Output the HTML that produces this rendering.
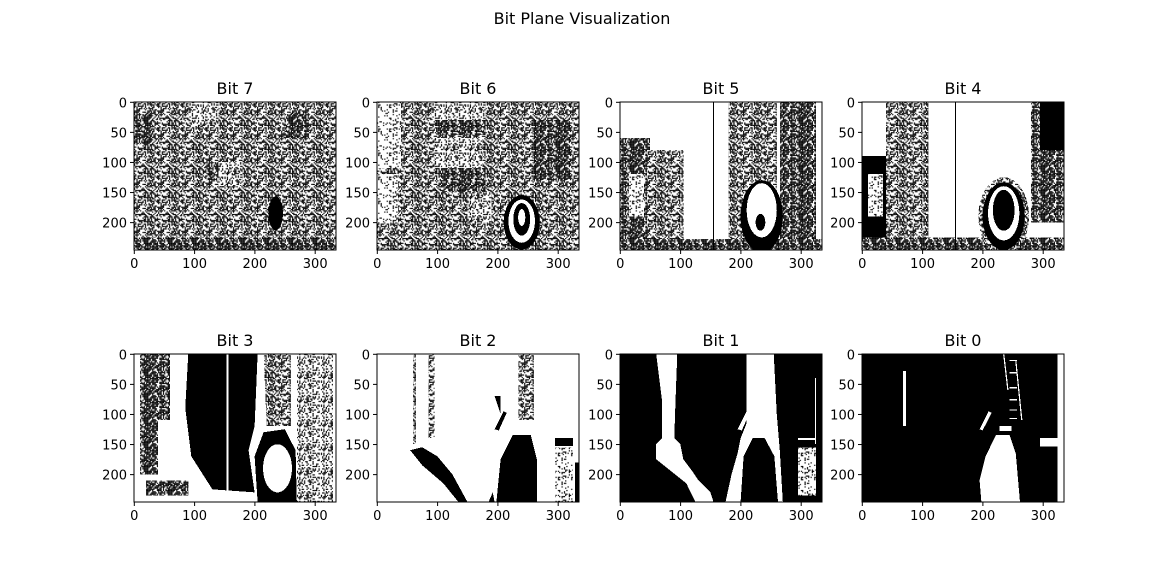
<!DOCTYPE html>
<html><head><meta charset="utf-8"><style>
html,body{margin:0;padding:0;background:#fff;}
svg{display:block;font-family:"DejaVu Sans","Liberation Sans",sans-serif;}
</style></head><body>
<svg id="fig" width="1149" height="564" viewBox="0 0 1149 564" xmlns="http://www.w3.org/2000/svg">
<defs id="defs"></defs>
<text x="582" y="24" font-size="16" text-anchor="middle" fill="#000">Bit Plane Visualization</text>
<g id="panels"></g>
</svg>
<script>
// Panel layout data
const panelTitles = ["Bit 7","Bit 6","Bit 5","Bit 4","Bit 3","Bit 2","Bit 1","Bit 0"];
const xTicks = [0,100,200,300];
const yTicks = [0,50,100,150,200];
const imgW = 335, imgH = 246;

const NS = "http://www.w3.org/2000/svg";
const defs = document.getElementById('defs');
const panelsG = document.getElementById('panels');

// noise texture patterns (visual texture, not data)
let seed = 12345;
function rnd(){ seed = (seed*1103515245+12345) & 0x7fffffff; return seed/0x7fffffff; }
function makePattern(id, density, cell){
  const p = document.createElementNS(NS,'pattern');
  p.setAttribute('id', id);
  p.setAttribute('patternUnits','userSpaceOnUse');
  p.setAttribute('width', 40); p.setAttribute('height', 40);
  let s = '<rect width="40" height="40" fill="#fff"/>';
  for(let y=0;y<40;y+=cell) for(let x=0;x<40;x+=cell){
    if(rnd()<density) s += `<rect x="${x}" y="${y}" width="${cell}" height="${cell}" fill="#000"/>`;
  }
  p.innerHTML = s;
  defs.appendChild(p);
}
makePattern('n50',0.5,2);
makePattern('n35',0.33,2);
makePattern('n70',0.72,2);
makePattern('n20',0.15,2);

// panel contents (image approximations in image coords)
const contents = [
// Bit 7
`<rect width="335" height="246" fill="url(#n50)"/>
<rect x="90" y="0" width="50" height="40" fill="url(#n35)"/>
<rect x="140" y="100" width="40" height="40" fill="url(#n35)"/>
<rect x="0" y="20" width="30" height="50" fill="url(#n70)"/>
<rect x="250" y="20" width="40" height="40" fill="url(#n70)"/>
<rect x="120" y="100" width="20" height="30" fill="url(#n70)"/>
<ellipse cx="235" cy="185" rx="12" ry="28" fill="#000"/>
<rect x="0" y="225" width="335" height="21" fill="url(#n70)"/>`,
// Bit 6
`<rect width="335" height="246" fill="url(#n50)"/>
<rect x="0" y="0" width="40" height="110" fill="url(#n20)"/>
<rect x="0" y="120" width="35" height="80" fill="url(#n20)"/>
<rect x="90" y="0" width="90" height="30" fill="url(#n35)"/>
<rect x="100" y="30" width="80" height="25" fill="url(#n70)"/>
<rect x="95" y="60" width="80" height="50" fill="url(#n35)"/>
<rect x="110" y="110" width="70" height="40" fill="url(#n70)"/>
<rect x="150" y="150" width="40" height="50" fill="url(#n35)"/>
<rect x="260" y="30" width="60" height="100" fill="url(#n70)"/>
<ellipse cx="240" cy="200" rx="30" ry="45" fill="#000"/>
<ellipse cx="240" cy="198" rx="22" ry="36" fill="#fff"/>
<ellipse cx="240" cy="195" rx="14" ry="27" fill="#000"/>
<ellipse cx="240" cy="192" rx="6" ry="14" fill="#fff"/>`,
// Bit 5
`<rect width="335" height="246" fill="#fff"/>
<rect x="0" y="60" width="50" height="186" fill="url(#n70)"/>
<rect x="15" y="120" width="25" height="70" fill="url(#n20)"/>
<rect x="45" y="80" width="60" height="166" fill="url(#n50)"/>
<rect x="180" y="0" width="80" height="246" fill="url(#n50)"/>
<rect x="265" y="0" width="60" height="246" fill="url(#n70)"/>
<rect x="0" y="228" width="335" height="18" fill="url(#n70)"/>
<ellipse cx="235" cy="190" rx="35" ry="60" fill="#000"/>
<ellipse cx="235" cy="180" rx="25" ry="45" fill="#fff"/>
<ellipse cx="233" cy="200" rx="8" ry="14" fill="#000"/>
<line x1="155" y1="0" x2="155" y2="246" stroke="#000" stroke-width="2"/>`,
// Bit 4
`<rect width="335" height="246" fill="#fff"/>
<rect x="0" y="90" width="55" height="156" fill="#000"/>
<rect x="10" y="120" width="25" height="70" fill="url(#n20)"/>
<rect x="40" y="0" width="70" height="246" fill="url(#n50)"/>
<rect x="280" y="0" width="55" height="200" fill="url(#n70)"/>
<rect x="295" y="0" width="40" height="80" fill="#000"/>
<rect x="0" y="225" width="335" height="21" fill="url(#n70)"/>
<ellipse cx="235" cy="190" rx="42" ry="65" fill="url(#n50)"/>
<ellipse cx="235" cy="190" rx="35" ry="56" fill="#000"/>
<ellipse cx="235" cy="185" rx="26" ry="45" fill="#fff"/>
<ellipse cx="235" cy="180" rx="18" ry="34" fill="#000"/>
<line x1="155" y1="0" x2="155" y2="246" stroke="#000" stroke-width="2"/>`,
// Bit 3
`<rect width="335" height="246" fill="#fff"/>
<rect x="10" y="0" width="50" height="110" fill="url(#n70)"/>
<rect x="10" y="110" width="30" height="90" fill="url(#n70)"/>
<polygon points="90,0 205,0 200,120 190,160 200,230 130,225 95,170 85,90" fill="#000"/>
<line x1="155" y1="0" x2="155" y2="246" stroke="#fff" stroke-width="3"/>
<rect x="20" y="210" width="70" height="25" fill="url(#n70)"/>
<rect x="270" y="0" width="60" height="246" fill="url(#n35)"/>
<polygon points="205,246 200,170 215,130 250,125 268,160 270,246" fill="#000"/>
<ellipse cx="238" cy="190" rx="24" ry="40" fill="#fff"/>
<polygon points="215,0 260,0 260,120 220,120" fill="url(#n50)"/>`,
// Bit 2
`<rect width="335" height="246" fill="#fff"/>
<polygon points="198,246 205,175 225,135 255,135 265,175 265,246" fill="#000"/>
<polygon points="185,246 192,230 195,246" fill="#000"/>
<polygon points="55,160 75,155 100,170 125,200 150,246 135,246 110,215 75,185" fill="#000"/>
<rect x="60" y="0" width="5" height="150" fill="url(#n50)"/>
<rect x="85" y="0" width="10" height="140" fill="url(#n50)"/>
<rect x="235" y="0" width="25" height="110" fill="url(#n50)"/>
<polygon points="210,95 195,125 202,127 215,98" fill="#000"/>
<polygon points="195,70 205,70 205,100" fill="#000"/>
<rect x="295" y="140" width="30" height="13" fill="#000"/>
<rect x="295" y="155" width="30" height="91" fill="url(#n20)"/>
<rect x="328" y="180" width="7" height="66" fill="#000"/>`,
// Bit 1
`<rect width="335" height="246" fill="#000"/>
<polygon points="60,0 95,0 92,80 90,140 100,150 105,175 120,195 130,210 150,230 155,246 125,246 110,215 85,195 60,175 60,150 70,140 70,80" fill="#fff"/>
<polygon points="175,246 185,200 195,165 200,140 210,115 210,0 255,0 260,100 265,160 270,246 262,246 256,170 240,140 220,140 205,170 200,246" fill="#fff"/>
<polygon points="210,95 195,125 202,127 215,98" fill="#fff"/>
<rect x="295" y="140" width="30" height="3" fill="#fff"/>
<rect x="295" y="155" width="30" height="80" fill="url(#n20)"/>
<rect x="323" y="40" width="2" height="110" fill="#fff"/>`,
// Bit 0
`<rect width="335" height="246" fill="#000"/>
<rect x="68" y="28" width="5" height="92" fill="#fff"/>
<polygon points="198,246 195,210 205,170 222,135 245,135 255,165 262,246" fill="#fff"/>
<polygon points="210,95 195,125 200,127 215,98" fill="#fff"/>
<rect x="228" y="120" width="20" height="8" fill="#fff"/>
<line x1="235" y1="0" x2="242" y2="60" stroke="#fff" stroke-width="2"/>
<line x1="255" y1="10" x2="265" y2="110" stroke="#fff" stroke-width="2"/>
<rect x="245" y="10" width="12" height="2" fill="#fff"/><rect x="245" y="30" width="12" height="2" fill="#fff"/>
<rect x="245" y="55" width="12" height="2" fill="#fff"/><rect x="245" y="75" width="12" height="2" fill="#fff"/>
<rect x="245" y="92" width="12" height="2" fill="#fff"/><rect x="245" y="106" width="12" height="2" fill="#fff"/>
<rect x="295" y="140" width="30" height="14" fill="#fff"/>
<rect x="324" y="0" width="11" height="246" fill="#fff"/>`
];

const colX = [134, 377, 620, 862];
const rowY = [102, 354];
const axW = 202, axH = 148;
const sx = axW/imgW, sy = axH/imgH;
function xpx(v){ return (v+0.5)*sx; }
function ypx(v){ return (v+0.5)*sy; }

panelTitles.forEach((t,i)=>{
  const x0 = colX[i%4], y0 = rowY[Math.floor(i/4)];
  const g = document.createElementNS(NS,'g');
  g.setAttribute('transform',`translate(${x0},${y0})`);
  
  
  let s = `<svg x="0" y="0" width="${axW}" height="${axH}" viewBox="0 0 ${imgW} ${imgH}" preserveAspectRatio="none" shape-rendering="crispEdges">${contents[i]}</svg>`;
  s += `<rect x="0" y="0" width="${axW}" height="${axH}" fill="none" stroke="#000" stroke-width="1"/>`;
  s += `<text x="${axW/2}" y="-8" font-size="16" text-anchor="middle">${t}</text>`;
  xTicks.forEach(v=>{
    const px = xpx(v);
    s += `<line x1="${px}" y1="${axH}" x2="${px}" y2="${axH+4}" stroke="#000"/>`;
    s += `<text x="${px}" y="${axH+18}" font-size="13" text-anchor="middle">${v}</text>`;
  });
  yTicks.forEach(v=>{
    const py = ypx(v);
    s += `<line x1="0" y1="${py}" x2="-4" y2="${py}" stroke="#000"/>`;
    s += `<text x="-7" y="${py+5}" font-size="13" text-anchor="end">${v}</text>`;
  });
  g.innerHTML = s;
  panelsG.appendChild(g);
});
</script>
</body></html>
